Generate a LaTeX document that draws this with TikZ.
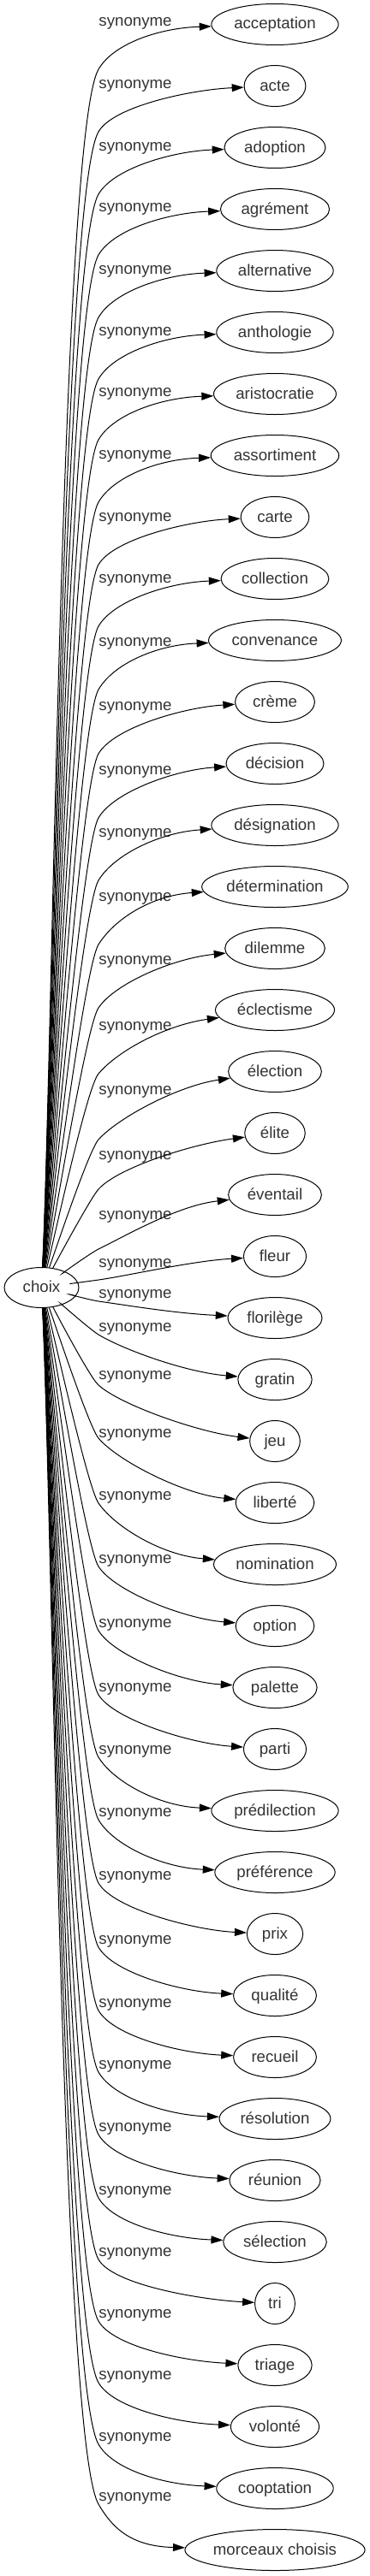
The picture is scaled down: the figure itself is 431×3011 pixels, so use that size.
\documentclass[tikz,border=0pt]{standalone}
\usepackage{fontspec}
\setmainfont{Liberation Sans}
\usepackage{tikz}
\usetikzlibrary{arrows.meta}
\usetikzlibrary{calc,shapes.geometric}
\definecolor{wordgray}{HTML}{333333}

\begin{document}
\begin{tikzpicture}[x=1pt, y=1pt, >={Triangle[length=14pt,width=9pt]},
    word/.style={draw, ellipse, inner xsep=0pt, minimum height=48pt, line width=1pt, text=wordgray, text height=15pt, text depth=4pt},
    rel/.style={text=wordgray, inner sep=0pt},
    link/.style={->, line width=1pt}]
    \useasboundingbox (0,0) rectangle (431,-3011);
    \fontsize{18.67pt}{22pt}\selectfont

    \node[word, minimum width=87pt, minimum height=47pt] (choix) at (48.5,-1505) {choix};

    \foreach \word/\laby/\passy/\bend/\arrive [count=\i] in {
        acceptation/26/81/60/4, acte/99/154/60/4, adoption/172/227/60/4,
        agrément/243/298/60/4, alternative/316/371/60/4, anthologie/388/443/60/4,
        aristocratie/459/514/60/4, assortiment/532/587/60/4, carte/605/660/60/4,
        collection/677/732/60/4, convenance/751/806/60/5, crème/826/881/60/6,
        décision/901/956/60/7, désignation/974/1029/59/8, détermination/1049/1104/58/10,
        dilemme/1123/1178/56/11, éclectisme/1200/1255/50/17, élection/1275/1332/48/16,
        élite/1351/1390/48/12, éventail/1421/1460/26/12, fleur/1477/1496/8/5,
        florilège/1513/1521/-8/-5, gratin/1552/1560/-31/-8, jeu/1608/1619/-42/-10,
        liberté/1676/1681/-50/-9, nomination/1749/1757/-55/-10, option/1823/1831/-57/-8,
        palette/1898/1906/-58/-6, parti/1973/1981/-58/-6, prédilection/2046/2054/-58/-5,
        préférence/2119/2127/-60/-5, prix/2193/2201/-60/-4, qualité/2268/2276/-60/-4,
        recueil/2342/2350/-60/-4, résolution/2414/2422/-60/-4, réunion/2487/2495/-60/-4,
        sélection/2561/2569/-60/-4, tri/2633/2641/-60/-4, triage/2705/2713/-60/-4,
        volonté/2777/2785/-60/-4, cooptation/2849/2857/-60/-4, morceaux choisis/2919/2927/-60/-4}{
        \pgfmathsetmacro{\ty}{28.5+72*(\i-1)}
        \pgfmathsetmacro{\nodew}{1.27*width("\word")+27}
        \pgfmathsetmacro{\edgr}{0.055*abs(1505-\passy)+8}
        \node[word, minimum width=\nodew pt] (s\i) at (321,-\ty) {\word};
        \node[rel] at (158,-\laby-1.5) {synonyme};
        \coordinate (p\i) at (115,-\passy);
        \draw[link] (choix) .. controls ($(choix)!0.2!(p\i)$) and ($(p\i)+(\bend+180:\edgr)$) .. (p\i)
            .. controls ($(p\i)+(\bend:35)$) and ($(s\i.west)+(\arrive+180:60)$) .. (s\i);
    }
\end{tikzpicture}
\end{document}
